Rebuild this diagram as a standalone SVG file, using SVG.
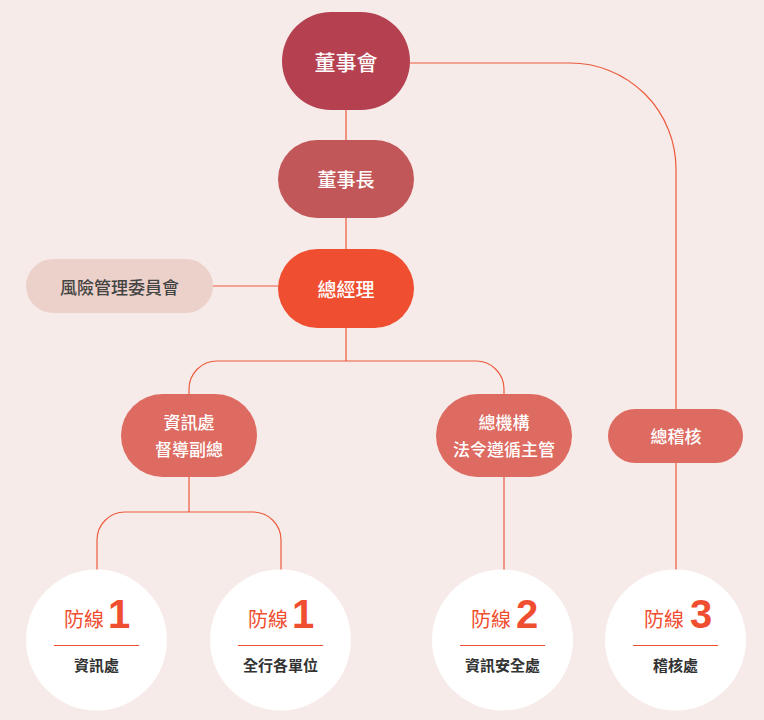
<svg xmlns="http://www.w3.org/2000/svg" width="764" height="720" viewBox="0 0 764 720">
<style>
.cjk{font-family:"Noto Sans CJK TC","Noto Sans CJK SC",sans-serif}
.nt{fill:#ffffff;text-anchor:middle;font-weight:500}
.conn{fill:none;stroke:#ec5a3c;stroke-width:1.2}
.circ{fill:#ffffff}
.def{fill:#f04e30;font-size:20px}
.num{fill:#f04e30;font-family:"Liberation Sans",Arial,sans-serif;font-weight:bold;font-size:40px}
.lbl{fill:#333333;font-size:15px;font-weight:bold;text-anchor:middle}
.div{stroke:#f04e30;stroke-width:1.2}
.mid{fill:#de6b61}
</style>
<rect width="764" height="720" fill="#f6ebe9"/>
<g id="connectors">
<path class="conn" d="M346,110 V140"/>
<path class="conn" d="M346,218 V249"/>
<path class="conn" d="M213,286 H278"/>
<path class="conn" d="M346,328 V361"/>
<path class="conn" d="M189,394 V389 A28,28 0 0 1 217,361 H476 A28,28 0 0 1 504,389 V394"/>
<path class="conn" d="M189,477 V512"/>
<path class="conn" d="M97,570 V540 A28,28 0 0 1 125,512 H253 A28,28 0 0 1 281,540 V570"/>
<path class="conn" d="M504,477 V570"/>
<path class="conn" d="M410,63 H570 A106,106 0 0 1 676,169 V570"/>
</g>
<g id="n-board">
<rect x="282" y="12" width="128" height="98" rx="49" fill="#b5404f"/>
<text class="cjk nt" x="346" y="69.5" font-size="21">董事會</text>
</g>
<g id="n-chair">
<rect x="278" y="140" width="136" height="78" rx="39" fill="#c25759"/>
<text class="cjk nt" x="346" y="187" font-size="19">董事長</text>
</g>
<g id="n-gm">
<rect x="278" y="249" width="136" height="79" rx="39.5" fill="#f04e30"/>
<text class="cjk nt" x="346" y="296.5" font-size="19">總經理</text>
</g>
<g id="n-risk">
<rect x="26" y="259" width="187" height="54" rx="27" fill="#ecd1ca"/>
<text class="cjk" x="119.5" y="293.5" font-size="17" fill="#444444" text-anchor="middle" font-weight="500">風險管理委員會</text>
</g>
<g id="n-it">
<rect class="mid" x="121" y="394" width="136" height="83" rx="41.5"/>
<text class="cjk nt" x="189" y="429" font-size="17">資訊處</text>
<text class="cjk nt" x="189" y="456" font-size="17">督導副總</text>
</g>
<g id="n-comp">
<rect class="mid" x="436" y="394" width="136" height="83" rx="41.5"/>
<text class="cjk nt" x="504" y="429" font-size="17">總機構</text>
<text class="cjk nt" x="504" y="456" font-size="17">法令遵循主管</text>
</g>
<g id="n-audit">
<rect class="mid" x="608" y="409" width="135" height="54" rx="27"/>
<text class="cjk nt" x="676" y="443" font-size="17">總稽核</text>
</g>
<g id="c-1a">
<circle class="circ" cx="96.5" cy="640" r="70.5"/>
<text class="cjk def" x="64" y="626.5">防線</text>
<text class="num" x="108" y="628">1</text>
<line class="div" x1="54" y1="645.5" x2="139" y2="645.5"/>
<text class="cjk lbl" x="96.5" y="671">資訊處</text>
</g>
<g id="c-1b">
<circle class="circ" cx="280.5" cy="640" r="70.5"/>
<text class="cjk def" x="248" y="626.5">防線</text>
<text class="num" x="292" y="628">1</text>
<line class="div" x1="238" y1="645.5" x2="323" y2="645.5"/>
<text class="cjk lbl" x="280.5" y="671">全行各單位</text>
</g>
<g id="c-2">
<circle class="circ" cx="502.5" cy="640" r="70.5"/>
<text class="cjk def" x="471" y="626.5">防線</text>
<text class="num" x="516" y="628">2</text>
<line class="div" x1="460" y1="645.5" x2="545" y2="645.5"/>
<text class="cjk lbl" x="502.5" y="671">資訊安全處</text>
</g>
<g id="c-3">
<circle class="circ" cx="675.5" cy="640" r="70.5"/>
<text class="cjk def" x="644" y="626.5">防線</text>
<text class="num" x="690" y="628">3</text>
<line class="div" x1="633" y1="645.5" x2="718" y2="645.5"/>
<text class="cjk lbl" x="675.5" y="671">稽核處</text>
</g>
</svg>
